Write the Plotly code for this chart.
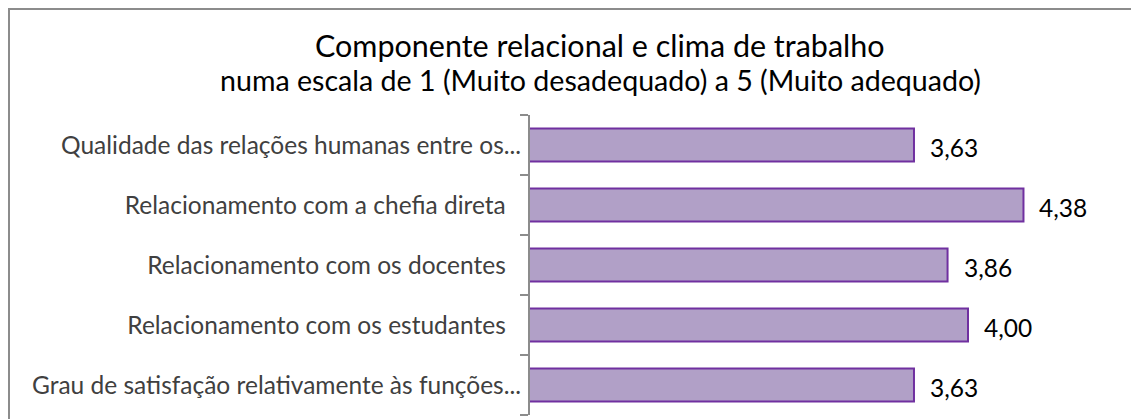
import plotly.graph_objects as go

categories = [
    "Qualidade das relações humanas entre os...",
    "Relacionamento com a chefia direta",
    "Relacionamento com os docentes",
    "Relacionamento com os estudantes",
    "Grau de satisfação relativamente às funções...",
]
tick_labels = [
    "Qualidade das relações humanas entre os...",
    "Relacionamento com a chefia direta\u2002\u2009",
    "Relacionamento com os docentes\u2002\u2009",
    "Relacionamento com os estudantes\u2002\u2009",
    "Grau de satisfação relativamente às funções...",
]
values = [3.63, 4.38, 3.86, 4.00, 3.63]
title_line1 = "Componente relacional e clima de trabalho"
title_line2 = "numa escala de 1 (Muito desadequado) a 5 (Muito adequado)"

W, H = 1131, 419
L, R, T, B = 530, 17, 115, 4
pw, ph = W - L - R, H - T - B

FONT = "Lato"

fig = go.Figure(go.Bar(
    x=values,
    y=categories,
    orientation="h",
    width=0.55,
    marker=dict(color="#B1A0C7", line=dict(color="#7030A0", width=2)),
    cliponaxis=False,
))

def px_x(x):
    return (x - L) / pw

def px_y(y):
    return 1 - (y - T) / ph

annotations = [
    dict(text=title_line1, xref="paper", yref="paper",
         x=px_x(600), y=px_y(45), xanchor="center", yanchor="middle",
         showarrow=False, font=dict(family=FONT, size=30.5, color="#000000")),
    dict(text=title_line2, xref="paper", yref="paper",
         x=px_x(600), y=px_y(80), xanchor="center", yanchor="middle",
         showarrow=False, font=dict(family=FONT, size=28.6, color="#000000")),
]
for c, v in zip(categories, values):
    annotations.append(dict(
        text=f"{v:.2f}".replace(".", ","), x=v, y=c, xref="x", yref="y",
        xanchor="left", yanchor="middle", xshift=14, yshift=-2, showarrow=False,
        font=dict(family=FONT, size=24.5, color="#000000"),
    ))

fig.update_layout(
    width=W, height=H,
    margin=dict(l=L, r=R, t=T, b=B, pad=0),
    paper_bgcolor="white", plot_bgcolor="white",
    separators=",.",
    showlegend=False,
    xaxis=dict(range=[1, 5], visible=False, fixedrange=True),
    yaxis=dict(
        autorange="reversed",
        tickmode="array", tickvals=categories, ticktext=tick_labels,
        showline=True, linecolor="#8C8C8C", linewidth=2,
        ticks="outside", ticklen=8, tickcolor="#8C8C8C", tickwidth=2,
        tickson="boundaries",
        tickfont=dict(family=FONT, size=24.5, color="#404040"),
        showgrid=False,
        ticklabelstandoff=2,
    ),
    shapes=[dict(
        type="rect", xref="paper", yref="paper",
        x0=px_x(9), x1=px_x(1140), y0=px_y(430), y1=px_y(9),
        line=dict(color="#8C8C8C", width=2), fillcolor="rgba(0,0,0,0)",
        layer="below",
    )],
    annotations=annotations,
)

fig.write_html("out.html")
